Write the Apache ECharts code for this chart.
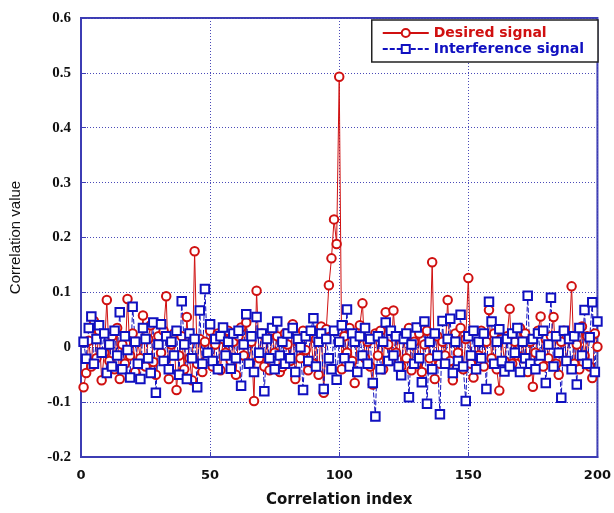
<!DOCTYPE html>
<html>
<head>
<meta charset="utf-8">
<script src="https://cdn.jsdelivr.net/npm/echarts@6/dist/echarts.min.js"></script>
<style>
  html, body { margin: 0; padding: 0; background: #fff; }
  #main { width: 614px; height: 513px; }
</style>
</head>
<body>
<div id="main"></div>
<script>
  // correlation values, index 1..200
  const desired = [
    -0.073, -0.047, 0.012, -0.035, 0.048, -0.020, 0.030, -0.060, -0.010, 0.086,
    -0.025, 0.020, -0.040, 0.035, -0.058, 0.005, -0.030, 0.088, -0.015, 0.025,
    -0.045, 0.010, -0.020, 0.058, -0.035, 0.015, 0.040, -0.027, -0.050, 0.020,
    -0.010, 0.030, 0.093, -0.058, 0.005, 0.025, -0.078, -0.015, 0.020, -0.040,
    0.055, -0.020, -0.060, 0.175, -0.030, 0.015, -0.045, 0.010, -0.020, 0.030,
    -0.035, 0.005, 0.025, -0.042, 0.015, -0.010, 0.030, -0.025, 0.010, -0.050,
    0.020, 0.036, -0.015, 0.045, -0.030, 0.010, -0.098, 0.103, -0.020, 0.025,
    -0.035, 0.015, -0.042, 0.030, -0.010, 0.020, -0.045, -0.036, 0.025, 0.005,
    -0.025, 0.042, -0.058, 0.010, -0.020, 0.030, -0.005, -0.042, 0.020, -0.030,
    0.015, -0.050, 0.038, -0.083, 0.033, 0.113, 0.162, 0.233, 0.188, 0.493,
    -0.040, 0.020, -0.010, 0.035, -0.025, -0.065, 0.015, 0.040, 0.080, -0.020,
    0.010, -0.035, -0.068, 0.025, -0.015, 0.030, -0.040, 0.064, 0.005, -0.025,
    0.067, -0.010, 0.020, -0.035, 0.015, -0.020, 0.035, -0.042, 0.010, -0.030,
    0.025, -0.045, 0.005, 0.030, -0.020, 0.155, -0.058, 0.020, -0.030, 0.010,
    -0.015, 0.086, -0.025, -0.060, 0.025, -0.010, 0.035, -0.040, 0.015, 0.126,
    -0.030, -0.055, 0.020, -0.015, 0.030, -0.035, 0.010, 0.068, -0.020, 0.025,
    -0.040, -0.079, 0.015, -0.025, 0.020, 0.070, -0.030, 0.010, -0.015, 0.035,
    -0.020, 0.025, -0.045, 0.010, -0.072, -0.010, 0.030, 0.056, -0.035, 0.015,
    -0.020, 0.020, 0.055, -0.030, -0.050, 0.010, 0.030, -0.025, 0.015, 0.111,
    -0.030, 0.005, -0.040, 0.038, -0.015, 0.020, -0.035, -0.056, 0.025, 0.001
  ]
  const interference = [
    0.010, -0.021, 0.035, 0.056, -0.030, 0.015, 0.040, -0.010, 0.025, -0.047,
    0.005, -0.035, 0.030, -0.015, 0.064, -0.040, 0.020, -0.005, -0.055, 0.074,
    0.010, -0.030, -0.058, 0.035, 0.015, -0.020, -0.047, 0.045, -0.083, 0.005,
    0.042, -0.025, 0.020, -0.040, 0.010, -0.015, 0.030, -0.050, 0.084, 0.005,
    -0.058, 0.025, -0.020, 0.015, -0.073, 0.067, -0.030, 0.106, -0.010, 0.042,
    -0.025, 0.015, -0.040, 0.020, 0.036, -0.015, 0.010, -0.039, 0.025, -0.020,
    0.030, -0.070, 0.005, 0.060, -0.030, 0.020, -0.045, 0.055, -0.010, 0.025,
    -0.080, 0.015, -0.020, 0.035, -0.040, 0.047, -0.015, 0.010, -0.030, 0.025,
    -0.020, 0.035, -0.045, 0.015, 0.000, -0.078, 0.020, -0.025, 0.030, 0.053,
    -0.035, 0.010, 0.025, -0.076, 0.015, -0.020, -0.040, 0.030, -0.059, 0.010,
    0.040, -0.020, 0.069, -0.035, 0.025, 0.010, -0.045, 0.020, -0.015, 0.035,
    -0.030, 0.015, -0.065, -0.126, 0.020, -0.040, 0.010, 0.045, -0.025, 0.030,
    -0.015, 0.020, -0.035, -0.051, 0.015, 0.025, -0.091, 0.005, -0.030, 0.036,
    -0.020, -0.064, 0.047, -0.103, 0.010, -0.040, 0.025, -0.015, -0.122, 0.048,
    -0.030, 0.015, 0.052, -0.047, 0.010, -0.025, 0.059, -0.035, -0.098, 0.020,
    -0.015, 0.030, -0.040, 0.010, -0.020, 0.025, -0.076, 0.083, 0.047, -0.030,
    0.010, 0.033, -0.025, -0.044, 0.015, -0.035, 0.025, -0.010, 0.035, -0.045,
    0.010, -0.020, 0.094, -0.030, 0.015, -0.040, 0.025, -0.015, 0.030, -0.065,
    0.005, 0.090, -0.035, 0.020, -0.010, -0.092, 0.030, -0.025, 0.015, -0.040,
    0.020, -0.068, 0.035, -0.015, 0.068, -0.030, 0.018, 0.082, -0.045, 0.047
  ]
  const seriesNames = ['Desired signal', 'Interference signal']

  const toPairs = (arr) => arr.map((v, i) => [i + 1, v])

  let myChart = echarts.init(document.getElementById('main'))

  const axisBlue = '#3c3cb4'
  const gridLine = { show: true, lineStyle: { color: '#4a4ab8', type: [1, 2], width: 1 } }

  let option = {
    backgroundColor: '#fff',
    animation: false,
    grid: {
      left: 78, right: 14, top: 18, bottom: 53,
      show: true, borderColor: axisBlue, borderWidth: 2, backgroundColor: '#fff'
    },
    legend: {
      data: seriesNames,
      orient: 'vertical',
      right: 16,
      top: 20,
      padding: [6, 14, 6, 10],
      itemGap: 2,
      itemWidth: 46,
      itemHeight: 10,
      backgroundColor: '#fff',
      borderColor: '#222',
      borderWidth: 1.5,
      borderRadius: 0,
      formatter: (name) => name === seriesNames[0] ? '{r|' + name + '}' : '{b|' + name + '}',
      textStyle: {
        fontFamily: 'DejaVu Sans', fontWeight: 'bold', fontSize: 14,
        rich: {
          r: { color: '#d01010', fontWeight: 'bold', fontSize: 14, fontFamily: 'DejaVu Sans' },
          b: { color: '#1010c0', fontWeight: 'bold', fontSize: 14, fontFamily: 'DejaVu Sans' }
        }
      }
    },
    xAxis: {
      type: 'value',
      min: 0,
      max: 200,
      interval: 50,
      name: 'Correlation index',
      nameLocation: 'middle',
      nameGap: 36,
      nameTextStyle: { fontFamily: 'DejaVu Sans', fontWeight: 'bold', fontSize: 15, color: '#111' },
      axisLine: { show: true, onZero: false, lineStyle: { color: axisBlue, width: 2 } },
      axisTick: { show: true, inside: true, length: 5, lineStyle: { color: axisBlue } },
      axisLabel: { fontFamily: 'DejaVu Sans', fontWeight: 'bold', fontSize: 13, color: '#111', margin: 12 },
      splitLine: gridLine
    },
    yAxis: {
      type: 'value',
      min: -0.2,
      max: 0.6,
      interval: 0.1,
      name: 'Correlation value',
      nameLocation: 'middle',
      nameGap: 58,
      nameTextStyle: { fontFamily: 'Liberation Sans', fontSize: 15, color: '#111' },
      axisLine: { show: true, onZero: false, lineStyle: { color: axisBlue, width: 2 } },
      axisTick: { show: true, inside: true, length: 5, lineStyle: { color: axisBlue } },
      axisLabel: {
        fontFamily: 'Liberation Serif', fontWeight: 'bold', fontSize: 15, color: '#111', margin: 10,
        formatter: (v) => String(+v.toFixed(1))
      },
      splitLine: gridLine
    },
    series: [
      {
        name: seriesNames[0],
        type: 'line',
        data: toPairs(desired),
        symbol: 'emptyCircle',
        symbolSize: 8.5,
        color: '#d01010',
        lineStyle: { color: '#d01010', width: 1 },
        itemStyle: { color: '#d01010', borderColor: '#d01010', borderWidth: 1 }
      },
      {
        name: seriesNames[1],
        type: 'line',
        data: toPairs(interference),
        symbol: 'emptyRect',
        symbolSize: 8.5,
        color: '#1010c0',
        lineStyle: { color: '#1010c0', width: 1, type: [5, 2] },
        itemStyle: { color: '#1010c0', borderColor: '#1010c0', borderWidth: 1 }
      }
    ]
  }

  myChart.setOption(option)
</script>
</body>
</html>
